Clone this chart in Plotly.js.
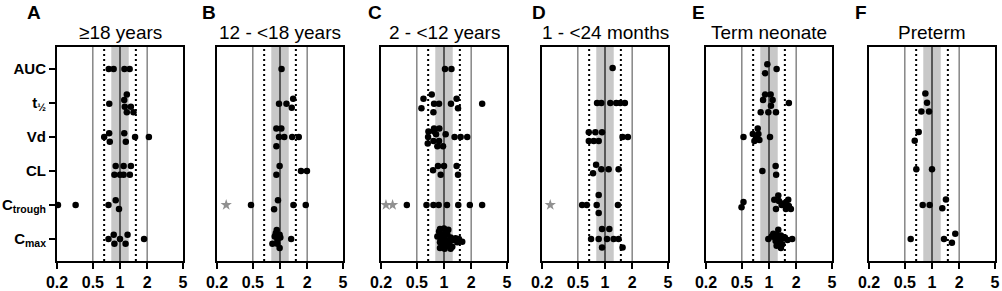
<!DOCTYPE html>
<html><head><meta charset="utf-8">
<script src="https://cdn.plot.ly/plotly-3.0.1.min.js"></script>
<style>html,body{margin:0;padding:0;background:#fff}#chart{width:1002px;height:291px}</style>
</head><body><div id="chart"></div>
<script>
// ---- data ----
const categories = ["AUC", "t½", "Vd", "CL", "Ctrough", "Cmax"];
const categoryLabels = ["AUC", "t<sub>½</sub>", "Vd", "CL", "C<sub>trough</sub>", "C<sub>max</sub>"];
const panelLetters = ["A", "B", "C", "D", "E", "F"];
const panelTitles = ["≥18 years", "12 - &lt;18 years", "2 - &lt;12 years", "1 - &lt;24 months", "Term neonate", "Preterm"];
const xTickVals = [0.2, 0.5, 1, 2, 5];
const xTickText = ["0.2", "0.5", "1", "2", "5"];
const bandLow = 0.8, bandHigh = 1.25;
const dottedLines = [0.667, 1.5];
const solidLines = [0.5, 2];

// Panel A (>=18 years)
const valsA = [0.75,0.85,1.12,1.28, 1.19,0.76,1.115,1.13,1.32,1.19,1.41, 0.668,0.758,0.77,1.115,1.16,1.47,2.09, 0.896,1.097,1.32,0.867,1.0,1.097,1.287, 0.205,0.322,0.745,0.896,0.975, 0.745,0.852,0.867,1.0,1.153,1.213,1.85];
const catA  = [0,0,0,0, 1,1,1,1,1,1,1, 2,2,2,2,2,2,2, 3,3,3,3,3,3,3, 4,4,4,4,4, 5,5,5,5,5,5,5];
const dyA   = [0,0,0,0, -0.25,0.02,-0.09,0.11,0.11,0.27,0.27, 0,-0.11,0.14,-0.11,0.14,0,0, -0.15,-0.15,-0.15,0.11,0.11,0.11,0.11, 0,0,0,-0.14,0.12, 0,-0.12,0.14,0,0.14,-0.12,0];
const starValsA = [], starCatA = [];

// Panel B (12 - <18 years)
const valsB = [1.04, 1.40,1.18,0.975,1.35, 0.912,1.034,0.975,1.115,1.365,1.615,0.912, 0.99,1.71,1.99,0.912, 0.477,0.95,0.86,1.41,1.93, 0.92,0.897,0.99,0.874,1.008,0.935,0.824,0.935,0.99,1.33];
const catB  = [0, 1,1,1,1, 2,2,2,2,2,2,2, 3,3,3,3, 4,4,4,4,4, 5,5,5,5,5,5,5,5,5,5];
const dyB   = [0, -0.13,0.02,0.02,0.14, -0.25,-0.25,0,0,0,0,0.27, -0.15,0,0,0.11, 0,-0.14,0.13,0,0, -0.26,-0.17,-0.12,-0.07,-0.04,0.03,0.14,0.14,0.27,0];
const starValsB = [0.253], starCatB = [4];

// Panel C (2 - <12 years)
const valsC = [1.025,1.21,
  0.731,0.592,1.38,0.776,0.881,1.195,2.65,0.562,1.43,0.763,
  0.776,0.888,0.672,0.776,0.816,1.043,0.666,1.31,1.53,1.81,0.763,0.881,0.66,0.844,0.975,
  0.858,1.0,1.38,0.756,0.919,1.43,
  0.387,0.639,0.763,0.873,1.079,1.44,1.935,2.65,
  0.903,1.0,1.116,0.881,1.043,0.943,1.088,0.844,1.0,1.184,1.345,1.464,0.919,1.052,1.236,1.593,0.903,1.0,1.135,1.403,0.959,1.088,1.236,0.903,1.017,1.184];
const catC  = [0,0,
  1,1,1,1,1,1,1,1,1,1,
  2,2,2,2,2,2,2,2,2,2,2,2,2,2,2,
  3,3,3,3,3,3,
  4,4,4,4,4,4,4,4,
  5,5,5,5,5,5,5,5,5,5,5,5,5,5,5,5,5,5,5,5,5,5,5,5,5,5];
const dyC   = [0,0,
  -0.25,-0.13,-0.13,0.02,0.02,0.02,0.02,0.15,0.15,0.27,
  -0.25,-0.25,-0.16,-0.16,-0.08,-0.08,0,0,0,0,0.12,0.12,0.19,0.27,0.27,
  -0.15,-0.15,-0.15,-0.02,0.11,0.11,
  0,0,0,0,0,0,0,0,
  -0.29,-0.31,-0.27,-0.22,-0.22,-0.14,-0.14,-0.07,-0.07,-0.04,-0.02,0,0.03,0.03,0.04,0.08,0.1,0.13,0.13,0.1,0.2,0.2,0.23,0.27,0.29,0.29];
const starValsC = [0.227, 0.269], starCatC = [4, 4];

// Panel D (1 - <24 months)
const valsD = [1.215,
  0.816,0.911,1.145,1.333,1.476,1.661,
  0.661,0.782,0.927,0.661,0.75,0.851,1.566,1.793,
  0.796,0.737,0.911,1.098,1.415,
  0.851,0.557,0.628,0.809,1.391,0.851,
  0.927,1.116,0.701,0.851,1.052,1.246,1.415,0.927,1.566];
const catD  = [0, 1,1,1,1,1,1, 2,2,2,2,2,2,2,2, 3,3,3,3,3, 4,4,4,4,4,4, 5,5,5,5,5,5,5,5,5];
const dyD   = [-0.03,
  0,0,0,0,0,0,
  -0.14,-0.14,-0.14,0.12,0.12,0.12,0,0,
  -0.18,0.07,-0.05,-0.05,-0.05,
  -0.29,0,0,0,0,0.24,
  -0.29,-0.29,0,0,0,0,0,0.25,0.25];
const starValsD = [0.247], starCatD = [4];

// Panel E (Term neonate)
const valsE = [0.958,1.215,0.904,
  0.904,1.043,0.859,1.098,1.052,0.809,0.983,1.195,1.662,
  0.75,0.661,0.763,0.719,0.782,0.689,0.521,1.026,
  0.844,1.184,1.2,
  0.521,0.496,1.268,1.145,1.289,1.634,1.476,1.566,1.662,1.379,1.195,1.54,1.748,1.634,
  1.268,1.116,1.215,1.356,1.164,1.289,0.983,1.476,1.606,1.808,1.184,1.322,1.246,1.403,1.356,1.5,1.07,1.215];
const catE  = [0,0,0, 1,1,1,1,1,1,1,1,1, 2,2,2,2,2,2,2,2, 3,3,3, 4,4,4,4,4,4,4,4,4,4,4,4,4,4, 5,5,5,5,5,5,5,5,5,5,5,5,5,5,5,5,5,5];
const dyE   = [-0.14,0,0.12,
  -0.25,-0.25,-0.09,-0.09,0.08,0.27,0.27,0.27,0,
  -0.25,-0.09,-0.09,0.04,0.09,0.12,0,0,
  0,-0.15,0.11,
  -0.09,0.07,-0.28,-0.15,-0.12,-0.15,-0.05,0,0.03,0,0.12,0.12,0.12,0.08,
  -0.27,-0.15,-0.12,-0.1,-0.04,-0.02,0,-0.02,0.03,0,0.06,0.08,0.13,0.16,0.27,-0.04,-0.07,0.2];
const starValsE = [], starCatE = [];

// Panel F (Preterm)
const valsF = [0.844,0.88,0.762,0.927, 0.712,0.643, 0.67,1.0, 0.788,0.942,1.428,1.301, 0.58,1.358,1.812,1.664];
const catF  = [1,1,1,1, 2,2, 3,3, 4,4,4,4, 5,5,5,5];
const dyF   = [-0.28,-0.01,0.25,0.25, -0.15,0.11, -0.05,-0.05, 0,0,-0.16,0.1, 0,0,-0.15,0.11];
const starValsF = [], starCatF = [];

// ---- build ----
const panels = [
  [valsA, catA, dyA, starValsA, starCatA],
  [valsB, catB, dyB, starValsB, starCatB],
  [valsC, catC, dyC, starValsC, starCatC],
  [valsD, catD, dyD, starValsD, starCatD],
  [valsE, catE, dyE, starValsE, starCatE],
  [valsF, catF, dyF, starValsF, starCatF]
];
const W = 1002, H = 291;
const panelPx = [[57,183],[217,343],[381,507],[542,668],[706,832],[869,995]];
const letterPx = [25, 200, 366, 530, 690, 853];
const plotTop = 47, plotBottom = 261;
const yDom = [1 - plotBottom / H, 1 - plotTop / H];
const FONT = "Liberation Sans, Arial, sans-serif";

const traces = [];
const shapes = [];
const annotations = [];
const layout = {
  width: W, height: H,
  margin: {l: 0, r: 0, t: 0, b: 0},
  paper_bgcolor: "#fff", plot_bgcolor: "rgba(0,0,0,0)",
  showlegend: false,
  font: {family: FONT, color: "#000"},
  shapes: shapes, annotations: annotations
};

panels.forEach((p, i) => {
  const sfx = i === 0 ? "" : String(i + 1);
  const xa = "x" + sfx, ya = "y" + sfx;
  const [vals, cats, dys, sv, sc] = p;
  traces.push({
    type: "scatter", mode: "markers", xaxis: xa, yaxis: ya,
    x: vals, y: cats.map((c, k) => c + dys[k]),
    text: cats.map(c => categories[c]),
    marker: {symbol: "circle", size: 6.5, color: "#000"},
    cliponaxis: false, hoverinfo: "x+text"
  });
  if (sv.length) {
    traces.push({
      type: "scatter", mode: "markers", xaxis: xa, yaxis: ya,
      x: sv, y: sc,
      marker: {symbol: "star", size: 8.5, color: "#909090"},
      cliponaxis: false, hoverinfo: "skip"
    });
  }
  const d0 = panelPx[i][0] / W, d1 = panelPx[i][1] / W;
  layout["xaxis" + sfx] = {
    domain: [d0, d1], anchor: ya, type: "log",
    range: [Math.log10(0.2), Math.log10(5)],
    tickvals: xTickVals, ticktext: xTickText.map(t => "<b>" + t + "</b>"),
    ticks: "outside", ticklen: 6, tickwidth: 2, tickcolor: "#000",
    showline: true, mirror: true, linewidth: 2, linecolor: "#000",
    showgrid: false, zeroline: false,
    tickfont: {size: 16, family: FONT, color: "#000"}
  };
  layout["yaxis" + sfx] = {
    domain: yDom, anchor: xa, range: [5.65, -0.65],
    tickvals: [0,1,2,3,4,5], ticktext: categoryLabels.map(t => "<b>" + t + "</b>"),
    showticklabels: i === 0, ticks: i === 0 ? "outside" : "", ticklen: 6, tickwidth: 2, tickcolor: "#000",
    showline: true, mirror: true, linewidth: 2, linecolor: "#000",
    showgrid: false, zeroline: false,
    tickfont: {size: 15, family: FONT, color: "#000"}
  };
  const yr = ya + " domain";
  shapes.push({type: "rect", xref: xa, yref: yr, x0: bandLow, x1: bandHigh, y0: 0, y1: 1,
    fillcolor: "#c8c8c8", line: {width: 0}, layer: "below"});
  solidLines.forEach(v => shapes.push({type: "line", xref: xa, yref: yr, x0: v, x1: v, y0: 0, y1: 1,
    line: {color: "#4a4a4a", width: 1}, layer: "below"}));
  dottedLines.forEach(v => shapes.push({type: "line", xref: xa, yref: yr, x0: v, x1: v, y0: 0, y1: 1,
    line: {color: "#000", width: 2, dash: "2px,3px"}, layer: "below"}));
  shapes.push({type: "line", xref: xa, yref: yr, x0: 1, x1: 1, y0: 0, y1: 1,
    line: {color: "#333", width: 1.5}, layer: "below"});

  annotations.push({xref: "paper", yref: "paper", x: (panelPx[i][0] + panelPx[i][1]) / 2 / W, y: 1 - 32 / H,
    xanchor: "center", yanchor: "middle", text: panelTitles[i], showarrow: false,
    font: {size: 19, family: FONT, color: "#000"}});
  annotations.push({xref: "paper", yref: "paper", x: letterPx[i] / W, y: 1 - 13 / H,
    xanchor: "left", yanchor: "middle", text: "<b>" + panelLetters[i] + "</b>", showarrow: false,
    font: {size: 19, family: FONT, color: "#000"}});
});

Plotly.newPlot("chart", traces, layout, {displayModeBar: false, staticPlot: true});
</script>
</body></html>
